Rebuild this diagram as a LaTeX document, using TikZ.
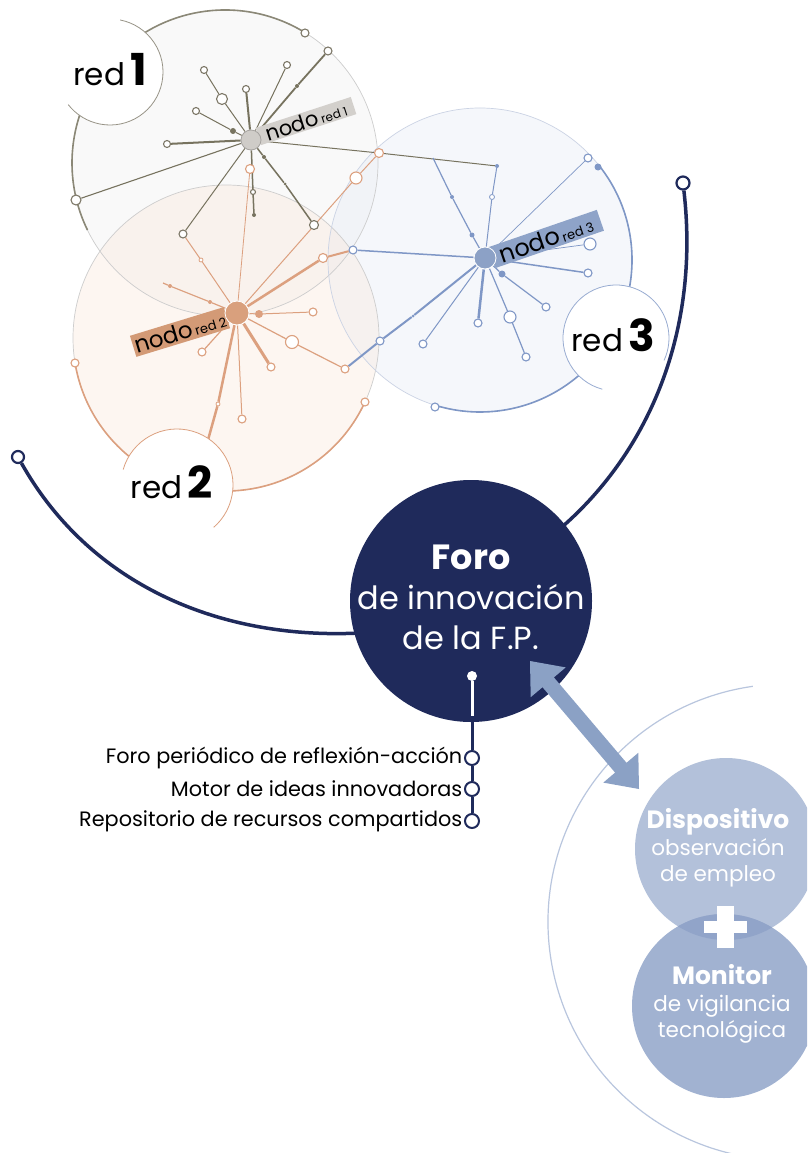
\documentclass[tikz,border=0pt]{standalone}
\usepackage{fontspec}
\setmainfont{Poppins}
\usetikzlibrary{arrows.meta}
\definecolor{navy}{HTML}{1F2A5B}
\definecolor{gline}{HTML}{77735F}
\definecolor{gring}{HTML}{7D7868}
\definecolor{ghub}{HTML}{CFCCC8}
\definecolor{glab}{HTML}{D3D0CC}
\definecolor{oline}{HTML}{DCA07F}
\definecolor{ohub}{HTML}{D9A07D}
\definecolor{olab}{HTML}{D39A76}
\definecolor{bline}{HTML}{7F97C6}
\definecolor{bhub}{HTML}{8CA1C6}
\definecolor{blab}{HTML}{8EA3C8}
\definecolor{ringgray}{HTML}{CDCDCD}
\definecolor{ringblue}{HTML}{CBD3E4}
\definecolor{arrowc}{HTML}{8BA1C5}
\definecolor{bigarc}{HTML}{B9C6DE}
\definecolor{dispc}{HTML}{B3C1DA}
\definecolor{monc}{HTML}{A1B2D1}
\definecolor{lensc}{HTML}{91A4C9}
\definecolor{fill1}{HTML}{F1F1F1}
\definecolor{fill2}{HTML}{FAE6D9}
\definecolor{fill3}{HTML}{E7EBF6}
\pgfdeclarelayer{paper}
\pgfdeclarelayer{fills}
\pgfdeclarelayer{lines}
\pgfdeclarelayer{tags}
\pgfdeclarelayer{front}
\pgfsetlayers{paper,fills,lines,tags,main,front}
\tikzset{
  ring/.style={circle, fill=white, inner sep=0pt, minimum size=#1, line width=1.1pt},
  ring/.default=8pt,
  dot/.style={circle, inner sep=0pt, minimum size=#1},
  dot/.default=4pt,
  hub/.style={circle, inner sep=0pt, minimum size=#1, draw=white, line width=0.8pt},
  tag/.style={inner sep=0pt, minimum height=#1, text=black},
  lblcircle/.style={circle, fill=white, inner sep=0pt, minimum size=#1},
  redtxt/.style={font=\fontsize{31}{31}\selectfont},
  item/.style={anchor=east, inner sep=1.5pt, font=\fontsize{20.8}{22}\selectfont, text=black},
}
\newcommand{\nodotag}[3]{{\fontsize{#2}{#2}\selectfont nodo} {\fontsize{#3}{#3}\selectfont red #1}}
\newcommand{\redlabel}[1]{red\,{\fontsize{44}{44}\selectfont\bfseries #1}}
\begin{document}
\begin{tikzpicture}[x=1pt,y=-1pt]
\clip (0,0) rectangle (807,1153);
\begin{pgfonlayer}{paper}
\fill[white] (0,0) rectangle (807,1153);
\end{pgfonlayer}

% ---------------- circles of the three networks
\coordinate (C1) at (225,163);
\coordinate (C2) at (226,338);
\coordinate (C3) at (480,260);
\begin{pgfonlayer}{fills}
\fill[fill1, fill opacity=0.4] (C1) circle (153pt);
\fill[fill3, fill opacity=0.4] (C3) circle (152pt);
\fill[fill2, fill opacity=0.35] (C2) circle (153pt);
\draw[ringgray, line width=0.7pt] (C1) circle (153pt);
\draw[ringgray, line width=0.7pt] (C2) circle (153pt);
\draw[ringblue, line width=0.7pt] (C3) circle (152pt);
\draw[gline!85, line width=1.6pt] (C1) ++(58:153pt) arc[start angle=58, end angle=206, radius=153pt];
\draw[oline, line width=1.6pt] (C2) ++(189.4:153pt) arc[start angle=189.4, end angle=335.3, radius=153pt];
\draw[bline, line width=1.6pt] (C3) ++(38:152pt) arc[start angle=38, end angle=-107, radius=152pt];
% big pale arc on the right
\coordinate (C4) at (786,922);
\draw[bigarc, line width=1.2pt] (C4) ++(98:238pt) arc[start angle=98, end angle=260, radius=238pt];
\end{pgfonlayer}

% ---------------- nodes of red 1
\node[hub=20pt, fill=ghub, draw=ghub!80!black] (h1) at (251,140) {};
\node[ring=7pt, draw=gring] (a1) at (204,70) {};
\node[ring=11pt, draw=gring] (a1m) at (222,99) {};
\node[ring=7pt, draw=gring] (a2) at (246,89) {};
\node[ring=7pt, draw=gring] (a3) at (287,65) {};
\node[ring=8pt, draw=gring] (a4) at (328,51) {};
\node[dot=4pt, fill=gline] (a4d) at (297,86) {};
\node[ring=7pt, draw=gring] (a5) at (196,111) {};
\node[dot=6pt, fill=gline] (a5d) at (233,131) {};
\node[ring=7pt, draw=gring] (a6) at (167,144) {};
\node[ring=10pt, draw=gring] (a7) at (76,200) {};
\node[ring=8pt, draw=gring] (a8) at (183,234) {};
\node[ring=5pt, draw=gring] (a9) at (253,192) {};
\node[dot=4pt, fill=gline] (a9d) at (254,215) {};
\node[ring=9pt, draw=gring] (a10) at (314,225) {};
\node[dot=4pt, fill=gline] (a10d) at (264,157) {};
\node[dot=3pt, fill=gline] (a10e) at (285,184) {};
\node[ring=8pt, draw=gring] (a11) at (305,33) {};
\node[dot=4pt, fill=bline] (c1) at (497,166) {};
\coordinate (jn) at (433,158);

% ---------------- nodes of red 2
\node[hub=24pt, fill=ohub] (h2) at (237,313) {};
\node[ring=9pt, draw=oline] (b1) at (323,258) {};
\node[ring=8pt, draw=bline] (b2) at (353,250) {};
\node[ring=12pt, draw=oline] (b3) at (356,178) {};
\node[ring=9pt, draw=oline] (b4) at (379,153) {};
\node[ring=4pt, draw=oline, line width=0.8pt] (b5) at (201,260) {};
\node[ring=9pt, draw=oline] (b7) at (250,169) {};
\coordinate (b8) at (163,283);
\node[dot=4pt, fill=oline] (b8d1) at (170,286) {};
\node[dot=4pt, fill=oline] (b8d2) at (210,302) {};
\node[ring=8pt, draw=oline] (b9) at (313,312) {};
\node[dot=8pt, fill=oline] (b9d) at (259,314) {};
\node[ring=13pt, draw=oline] (b10) at (292,342) {};
\node[ring=8pt, draw=oline] (b11) at (345,369) {};
\node[ring=8pt, draw=oline] (b12) at (271,367) {};
\node[ring=8pt, draw=oline] (b13) at (242,419) {};
\coordinate (b14) at (208,440);
\node[ring=4pt, draw=oline, line width=0.8pt] (b14d) at (218,404) {};
\node[ring=8pt, draw=oline] (b15) at (202,352) {};
\node[ring=8pt, draw=oline] (b16) at (75,363) {};
\node[ring=8pt, draw=oline] (b17) at (365,402) {};

% ---------------- nodes of red 3
\node[hub=22pt, fill=bhub] (h3) at (485,258) {};
\node[ring=5pt, draw=bline, line width=0.8pt] (c2) at (492,197) {};
\node[dot=4pt, fill=bline] (c3) at (452,197) {};
\node[dot=5pt, fill=bline] (c3b) at (472,235) {};
\node[ring=8pt, draw=bline] (c4) at (588,158) {};
\node[ring=12pt, draw=bline] (c5) at (590,244) {};
\node[ring=8pt, draw=bline] (c6) at (588,273) {};
\node[ring=8pt, draw=bline] (c7) at (546,307) {};
\node[dot=7pt, fill=bline] (c7d) at (502,274) {};
\node[ring=8pt, draw=bline] (c8) at (478,323) {};
\node[ring=12pt, draw=bline] (c9) at (510,317) {};
\node[ring=8pt, draw=bline] (c10) at (526,357) {};
\node[ring=8pt, draw=bline] (c11) at (423,344) {};
\node[ring=8pt, draw=bline] (c12) at (380,341) {};
\node[dot=3pt, fill=bline] (c12d) at (413,316) {};
\node[dot=7pt, fill=bline] (c13) at (598,167) {};
\node[ring=8pt, draw=bline] (c14) at (435,407) {};

% ---------------- connectors of the networks
\begin{pgfonlayer}{lines}
\draw[gline, line width=1pt] (h1) -- (a1m) -- (a1);
\draw[gline, line width=2pt] (h1) -- (a2);
\draw[gline, line width=1pt] (h1) -- (a3);
\draw[gline, line width=1.8pt] (h1) -- (a4d) -- (a4);
\draw[gline, line width=1pt] (h1) -- (a5d) -- (a5);
\draw[gline, line width=2pt] (h1) -- (a6);
\draw[gline, line width=1.1pt] (h1) -- (a7);
\draw[gline, line width=1pt] (h1) -- (a8);
\draw[gline, line width=1.5pt] (h1) -- (a9) -- (a9d);
\draw[gline, line width=1.5pt] (h1) -- (a10d) -- (a10e) -- (a10);
\draw[gline, line width=1pt] (h1) -- (b4) -- (c1);
% red 2
\draw[oline, line width=2.5pt] (h2) -- (b1);
\draw[oline, line width=2pt] (b1) -- (b2);
\draw[oline, line width=1pt] (h2) -- (b3) -- (b4);
\draw[oline, line width=1pt] (h2) -- (b5) -- (a8);
\draw[oline, line width=0.8pt] (h2) -- (b7);
\draw[oline, line width=1.2pt] (h2) -- (b8d2) -- (b8d1) -- (b8);
\draw[oline, line width=1pt] (h2) -- (b9d) -- (b9);
\draw[oline, line width=1.2pt] (h2) -- (b10) -- (b11);
\draw[oline, line width=3pt] (h2) -- (b12);
\draw[oline, line width=1pt] (h2) -- (b13);
\draw[oline, line width=2.5pt] (h2) -- (b14d) -- (b14);
\draw[oline, line width=1.2pt] (h2) -- (b15);
% red 3
\draw[bline, line width=1pt] (c1) -- (c2) -- (h3);
\draw[bline, line width=1.2pt] (jn) -- (c3) -- (c3b) -- (h3);
\draw[bline, line width=0.7pt] (h3) -- (c4);
\draw[bline, line width=0.7pt] (h3) -- (c5);
\draw[bline, line width=1.5pt] (h3) -- (c6);
\draw[bline, line width=1.2pt] (h3) -- (c7d) -- (c7);
\draw[bline, line width=2.5pt] (h3) -- (c8);
\draw[bline, line width=1.2pt] (h3) -- (c9) -- (c10);
\draw[bline, line width=1pt] (h3) -- (c11);
\draw[bline, line width=2pt] (h3) -- (c12d) -- (c12);
\draw[bline, line width=2pt] (c12) -- (b11);
\draw[bline, line width=1.5pt] (h3) -- (b2);
\end{pgfonlayer}

% ---------------- hub tags
\begin{pgfonlayer}{tags}
\node[tag=18pt, fill=glab, minimum width=100pt, rotate=18] (t1) at (306,121) {\nodotag{1}{21}{12}};
\node[tag=22pt, fill=olab, minimum width=98pt, rotate=17] (t2) at (180,332) {\nodotag{2}{23}{13}};
\node[tag=22pt, fill=blab, minimum width=115pt, rotate=19] (t3) at (546,239) {\nodotag{3}{24}{13}};
\end{pgfonlayer}

% ---------------- network labels
\begin{pgfonlayer}{front}
\node[lblcircle=106pt] (R1) at (110,72) {};
\draw[gring!80, line width=0.8pt] (R1.center) ++(79:53pt) arc[start angle=79, end angle=-142, radius=53pt];
\node[redtxt] (R1t) at (110,70) {\redlabel{1}};
\node[lblcircle=112pt] (R2) at (177,485) {};
\draw[oline, line width=0.8pt] (R2.center) ++(164:56pt) arc[start angle=164, end angle=-49, radius=56pt];
\node[redtxt] (R2t) at (172,482) {\redlabel{2}};
\node[lblcircle=106pt] (R3) at (616,338) {};
\draw[bline!80, line width=0.8pt] (R3.center) ++(255:53pt) arc[start angle=255, end angle=-25, radius=53pt];
\node[redtxt] (R3t) at (613,335) {\redlabel{3}};
\end{pgfonlayer}

% ---------------- Foro
\node[circle, fill=navy, minimum size=242pt, inner sep=0pt] (foro) at (471,601) {};
\node[ring=12pt, draw=navy, line width=2.2pt] (L0) at (18,457) {};
\node[ring=13pt, draw=navy, line width=2.2pt] (R0) at (683,183) {};
\coordinate (fl) at (360,633);
\coordinate (fr) at (562,527);
\begin{pgfonlayer}{lines}
\draw[navy, line width=3.5pt] (L0) .. controls (90,585) and (220,640) .. (fl);
\draw[navy, line width=3.5pt] (R0) .. controls (700,330) and (650,450) .. (fr);
\end{pgfonlayer}
\node[text=white, align=center, font=\fontsize{32}{40}\selectfont] (forot) at (471,597)
  {{\fontsize{35}{40}\selectfont\bfseries Foro}\\de innovación\\de la F.P.};

% list below Foro
\node[dot=10pt, fill=white] (wd) at (472,676) {};
\coordinate (fb) at (472,716);
\node[ring=14pt, draw=navy, line width=2pt] (i1) at (472,758) {};
\node[ring=14pt, draw=navy, line width=2pt] (i2) at (472,789) {};
\node[ring=14pt, draw=navy, line width=2pt] (i3) at (472,821) {};
\begin{pgfonlayer}{lines}
\draw[navy, line width=3pt] (fb) -- (i1) -- (i2) -- (i3);
\end{pgfonlayer}
\begin{pgfonlayer}{front}
\draw[white, line width=3pt] (wd) -- (fb);
\end{pgfonlayer}
\node[item] (l1) at (i1.west) {Foro periódico de reflexión-acción};
\node[item] (l2) at (i2.west) {Motor de ideas innovadoras};
\node[item] (l3) at (i3.west) {Repositorio de recursos compartidos};

% ---------------- Dispositivo + Monitor
\node[circle, fill=dispc, minimum size=182pt, inner sep=0pt] (disp) at (726,849) {};
\node[circle, fill=monc, minimum size=184pt, inner sep=0pt] (mon) at (724,1006) {};
\begin{scope}
\clip (726,849) circle (91pt);
\fill[lensc] (724,1006) circle (92pt);
\end{scope}
\fill[white] (704,921) rectangle (747,933);
\fill[white] (717,906) rectangle (734,948);
\node[text=white, align=center, font=\fontsize{21.5}{26.5}\selectfont] (dispt) at (718,848)
  {{\fontsize{25}{26.5}\selectfont\bfseries Dispositivo}\\observación\\de empleo};
\node[text=white, align=center, font=\fontsize{21.5}{26.5}\selectfont] (mont) at (722,1004)
  {{\fontsize{25}{26.5}\selectfont\bfseries Monitor}\\de vigilancia\\tecnológica};

% ---------------- double arrow
\begin{pgfonlayer}{front}
\coordinate (A) at (530,661);
\coordinate (B) at (639,789);
\fill[arrowc] (A) -- (565.7,667.4) -- (553.9,677.4) -- (626.5,762.8) -- (638.3,752.8) -- (B)
  -- (603.3,782.6) -- (615.1,772.6) -- (542.5,687.2) -- (530.7,697.2) -- cycle;
\end{pgfonlayer}
\end{tikzpicture}
\end{document}
